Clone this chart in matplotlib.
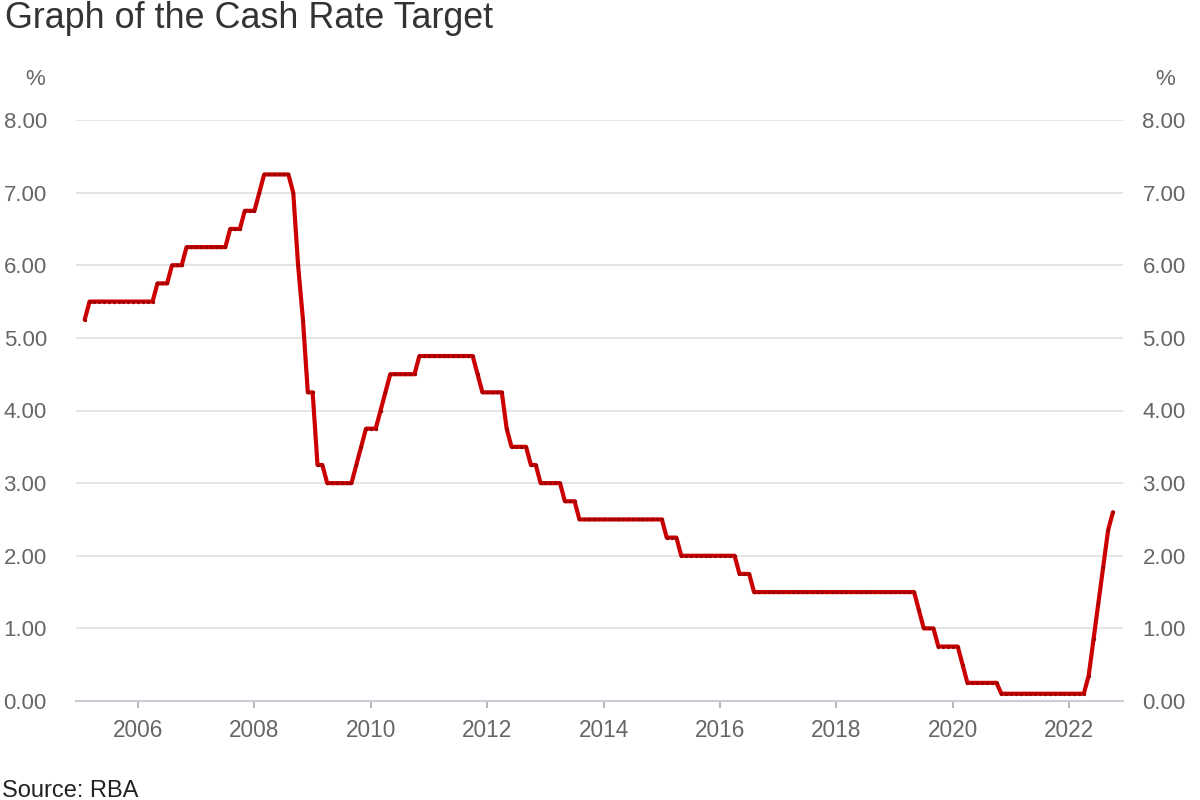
import matplotlib.pyplot as plt
import numpy as np

plt.rcParams['font.family'] = ['Liberation Sans', 'DejaVu Sans']

# RBA cash rate target, monthly, Feb 2005 to Oct 2022 (%)
first_year, first_month = 2005, 2
cash_rate = [
    5.25, 5.50, 5.50, 5.50, 5.50, 5.50, 5.50, 5.50, 5.50, 5.50, 5.50,        # 2005 (Feb-Dec)
    5.50, 5.50, 5.50, 5.50, 5.75, 5.75, 5.75, 6.00, 6.00, 6.00, 6.25, 6.25,  # 2006
    6.25, 6.25, 6.25, 6.25, 6.25, 6.25, 6.25, 6.50, 6.50, 6.50, 6.75, 6.75,  # 2007
    6.75, 7.00, 7.25, 7.25, 7.25, 7.25, 7.25, 7.25, 7.00, 6.00, 5.25, 4.25,  # 2008
    4.25, 3.25, 3.25, 3.00, 3.00, 3.00, 3.00, 3.00, 3.00, 3.25, 3.50, 3.75,  # 2009
    3.75, 3.75, 4.00, 4.25, 4.50, 4.50, 4.50, 4.50, 4.50, 4.50, 4.75, 4.75,  # 2010
    4.75, 4.75, 4.75, 4.75, 4.75, 4.75, 4.75, 4.75, 4.75, 4.75, 4.50, 4.25,  # 2011
    4.25, 4.25, 4.25, 4.25, 3.75, 3.50, 3.50, 3.50, 3.50, 3.25, 3.25, 3.00,  # 2012
    3.00, 3.00, 3.00, 3.00, 2.75, 2.75, 2.75, 2.50, 2.50, 2.50, 2.50, 2.50,  # 2013
    2.50, 2.50, 2.50, 2.50, 2.50, 2.50, 2.50, 2.50, 2.50, 2.50, 2.50, 2.50,  # 2014
    2.50, 2.25, 2.25, 2.25, 2.00, 2.00, 2.00, 2.00, 2.00, 2.00, 2.00, 2.00,  # 2015
    2.00, 2.00, 2.00, 2.00, 1.75, 1.75, 1.75, 1.50, 1.50, 1.50, 1.50, 1.50,  # 2016
    1.50, 1.50, 1.50, 1.50, 1.50, 1.50, 1.50, 1.50, 1.50, 1.50, 1.50, 1.50,  # 2017
    1.50, 1.50, 1.50, 1.50, 1.50, 1.50, 1.50, 1.50, 1.50, 1.50, 1.50, 1.50,  # 2018
    1.50, 1.50, 1.50, 1.50, 1.50, 1.25, 1.00, 1.00, 1.00, 0.75, 0.75, 0.75,  # 2019
    0.75, 0.75, 0.50, 0.25, 0.25, 0.25, 0.25, 0.25, 0.25, 0.25, 0.10, 0.10,  # 2020
    0.10, 0.10, 0.10, 0.10, 0.10, 0.10, 0.10, 0.10, 0.10, 0.10, 0.10, 0.10,  # 2021
    0.10, 0.10, 0.10, 0.10, 0.35, 0.85, 1.35, 1.85, 2.35, 2.60,              # 2022 (Jan-Oct)
]
year_ticks = [2006, 2008, 2010, 2012, 2014, 2016, 2018, 2020, 2022]
rate_ticks = [0, 1, 2, 3, 4, 5, 6, 7, 8]

months = np.arange(len(cash_rate))
x = first_year + (first_month - 1) / 12 + months / 12

fig = plt.figure(figsize=(12, 8), dpi=100)
ax = fig.add_axes([76 / 1200, 1 - 701 / 800, (1123 - 76) / 1200, (701 - 120) / 800])

ax.plot(x, cash_rate, color='#cc0000', lw=3.0, solid_joinstyle='round',
        solid_capstyle='round', marker='o', ms=2.4, mfc='#9e0000', mec='none',
        zorder=3, clip_on=False)

ax.set_xlim(2004.934, 2022.923)
ax.set_ylim(0, 8)
ax.set_yticks(rate_ticks)
ax.set_yticklabels(['%.2f' % v for v in rate_ticks])
ax.set_xticks(year_ticks)
ax.set_xticklabels([str(y) for y in year_ticks])
ax.grid(axis='y', color='#e3e3e3', lw=1.3)
ax.set_axisbelow(True)

for side in ['top', 'left', 'right']:
    ax.spines[side].set_visible(False)
ax.spines['bottom'].set_color('#ccccd8')
ax.spines['bottom'].set_linewidth(1.5)

ax.tick_params(axis='y', length=0, labelsize=16, labelcolor='#666666', pad=21)
ax.tick_params(axis='x', length=5, width=1.2, color='#aaaaaa', labelsize=16.3,
               labelcolor='#666666', pad=8)

ax2 = ax.twinx()
ax2.set_ylim(0, 8)
ax2.set_yticks(rate_ticks)
ax2.set_yticklabels(['%.2f' % v for v in rate_ticks])
for side in ['top', 'left', 'right', 'bottom']:
    ax2.spines[side].set_visible(False)
ax2.tick_params(axis='y', length=0, labelsize=16, labelcolor='#666666', pad=14)

fig.text(5 / 1200, 1 - 28 / 800, 'Graph of the Cash Rate Target', fontsize=25.8,
         color='#333333', ha='left', va='baseline')
fig.text(35 / 1200, 1 - 85 / 800, '%', fontsize=16, color='#666666',
         ha='center', va='baseline')
fig.text(1165 / 1200, 1 - 85 / 800, '%', fontsize=16, color='#666666',
         ha='center', va='baseline')
fig.text(2 / 1200, 1 - 797 / 800, 'Source: RBA', fontsize=17, color='#222222',
         ha='left', va='baseline')

fig.savefig('out.png', dpi=100, facecolor='white')
